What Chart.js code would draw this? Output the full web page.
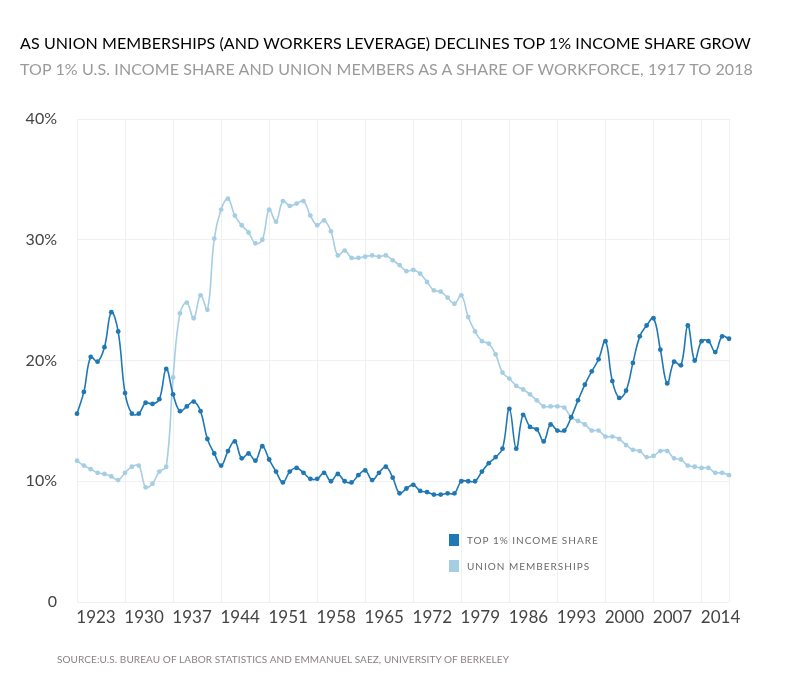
<!DOCTYPE html>
<html lang="en">
<head>
  <meta charset="UTF-8">
  <title>Union memberships and top 1% income share</title>
  <script src="https://cdn.jsdelivr.net/npm/chart.js"></script>
  <style>
    body {
      margin: 0;
      background: #fff;
      font-family: Lato, "Open Sans", sans-serif;
    }
    #wrap {
      position: relative;
      width: 800px;
      height: 693px;
      overflow: hidden;
    }
    .txt {
      position: absolute;
      white-space: nowrap;
      line-height: 1;
      text-transform: uppercase;
    }
    #title { left: 20px; top: 35px; font-size: 16px; color: #000; }
    #subtitle { left: 20px; top: 61px; font-size: 16px; color: #9a9a9a; }
    #source { left: 57px; top: 654px; font-size: 10px; color: #8a8282; }
    .legend-item {
      position: absolute;
      left: 449px;
      font-size: 10px;
      color: #6a6a6a;
      letter-spacing: 1px;
      line-height: 12px;
    }
    .legend-item span.box {
      display: inline-block;
      width: 10px;
      height: 12px;
      vertical-align: top;
      margin-right: 8px;
    }
    #chartBox {
      position: absolute;
      left: 0;
      top: 0;
      width: 800px;
      height: 693px;
    }
  </style>
</head>
<body>
  <div id="wrap">
    <div id="chartBox"><canvas id="grafica"></canvas></div>
    <div class="txt" id="title">As union memberships (and workers leverage) declines top 1% income share grow</div>
    <div class="txt" id="subtitle">Top 1% U.S. income share and union members as a share of workforce, 1917 to 2018</div>
    <div class="legend-item" style="top:534px"><span class="box" style="background:#1f78b4"></span>TOP 1% INCOME SHARE</div>
    <div class="legend-item" style="top:560px"><span class="box" style="background:#a6cee3"></span>UNION MEMBERSHIPS</div>
    <div class="txt" id="source">Source:U.S. Bureau of Labor Statistics and Emmanuel Saez, University of Berkeley</div>
  </div>

  <script>
    const years = [
      1923, 1924, 1925, 1926, 1927, 1928, 1929, 1930, 1931, 1932, 1933, 1934,
      1935, 1936, 1937, 1938, 1939, 1940, 1941, 1942, 1943, 1944, 1945, 1946,
      1947, 1948, 1949, 1950, 1951, 1952, 1953, 1954, 1955, 1956, 1957, 1958,
      1959, 1960, 1961, 1962, 1963, 1964, 1965, 1966, 1967, 1968, 1969, 1970,
      1971, 1972, 1973, 1974, 1975, 1976, 1977, 1978, 1979, 1980, 1981, 1982,
      1983, 1984, 1985, 1986, 1987, 1988, 1989, 1990, 1991, 1992, 1993, 1994,
      1995, 1996, 1997, 1998, 1999, 2000, 2001, 2002, 2003, 2004, 2005, 2006,
      2007, 2008, 2009, 2010, 2011, 2012, 2013, 2014, 2015, 2016, 2017, 2018
    ];

    // top 1% income share, %
    const topShare = [
      15.6, 17.4, 20.3, 19.9, 21.1, 24.0, 22.4, 17.3, 15.6, 15.6, 16.5, 16.4,
      16.8, 19.3, 17.2, 15.8, 16.2, 16.6, 15.8, 13.5, 12.3, 11.3, 12.5, 13.3,
      11.9, 12.3, 11.7, 12.9, 11.8, 10.8, 9.9, 10.8, 11.1, 10.7, 10.2, 10.2,
      10.7, 10.0, 10.6, 10.0, 9.9, 10.5, 10.9, 10.1, 10.7, 11.2, 10.3, 9.0,
      9.4, 9.7, 9.2, 9.1, 8.9, 8.9, 9.0, 9.0, 10.0, 10.0, 10.0, 10.8,
      11.5, 12.0, 12.7, 16.0, 12.7, 15.5, 14.5, 14.3, 13.3, 14.7, 14.2, 14.2,
      15.3, 16.7, 18.0, 19.1, 20.1, 21.6, 18.3, 16.9, 17.5, 19.8, 22.0, 22.9,
      23.5, 20.9, 18.1, 19.9, 19.6, 22.9, 20.0, 21.6, 21.6, 20.7, 22.0, 21.8
    ];

    // union members as share of workforce, %
    const unionShare = [
      11.7, 11.3, 11.0, 10.7, 10.6, 10.4, 10.1, 10.7, 11.2, 11.3, 9.5, 9.8,
      10.8, 11.2, 18.6, 23.9, 24.8, 23.5, 25.4, 24.2, 30.1, 32.5, 33.4, 32.0,
      31.2, 30.6, 29.7, 30.0, 32.5, 31.5, 33.2, 32.8, 33.0, 33.2, 32.0, 31.2,
      31.6, 30.7, 28.7, 29.1, 28.5, 28.5, 28.6, 28.7, 28.6, 28.7, 28.3, 27.9,
      27.4, 27.5, 27.2, 26.5, 25.8, 25.7, 25.2, 24.7, 25.4, 23.6, 22.4, 21.6,
      21.4, 20.5, 19.0, 18.5, 17.9, 17.6, 17.2, 16.7, 16.2, 16.2, 16.2, 16.1,
      15.3, 15.0, 14.7, 14.2, 14.2, 13.7, 13.7, 13.5, 13.0, 12.6, 12.5, 12.0,
      12.1, 12.5, 12.5, 11.9, 11.8, 11.3, 11.2, 11.1, 11.1, 10.7, 10.7, 10.5
    ];

    const xTicks = [1923, 1930, 1937, 1944, 1951, 1958, 1965, 1972, 1979, 1986, 1993, 2000, 2007, 2014];
    const yTicks = [0, 10, 20, 30, 40];

    // stretch the caption texts to the widths they take in the original
    function fitWidth(id, target) {
      const el = document.getElementById(id);
      const n = el.textContent.length;
      const w = el.getBoundingClientRect().width;
      el.style.letterSpacing = ((target - w) / n) + 'px';
    }
    fitWidth('title', 731);
    fitWidth('subtitle', 733);
    fitWidth('source', 452);

    const gridColor = '#f0f0f0';
    const firstYear = years[0];
    const lastYear = years[years.length - 1];
    const toPoints = arr => arr.map((v, i) => ({ x: years[i], y: v }));

    const ctx = document.getElementById('grafica').getContext('2d');
    new Chart(ctx, {
      type: 'line',
      data: {
        datasets: [
          {
            label: 'Top 1% income share',
            data: toPoints(topShare),
            borderColor: '#1f78b4',
            backgroundColor: '#1f78b4',
            borderWidth: 1.6,
            pointRadius: 2.4,
            pointBorderWidth: 0,
            tension: 0.4,
            clip: false,
            order: 1
          },
          {
            label: 'Union memberships',
            data: toPoints(unionShare),
            borderColor: '#a6cee3',
            backgroundColor: '#a6cee3',
            borderWidth: 1.6,
            pointRadius: 2.4,
            pointBorderWidth: 0,
            tension: 0.4,
            clip: false,
            order: 2
          }
        ]
      },
      options: {
        responsive: true,
        maintainAspectRatio: false,
        animation: false,
        layout: { padding: { left: 0, right: 71, top: 119, bottom: 61 } },
        plugins: {
          legend: { display: false },
          tooltip: { enabled: false }
        },
        scales: {
          x: {
            type: 'linear',
            min: firstYear,
            max: lastYear,
            border: { display: false },
            grid: { drawTicks: false, color: gridColor },
            afterBuildTicks: scale => {
              scale.ticks = xTicks.concat([lastYear]).map(v => ({ value: v }));
            },
            ticks: {
              autoSkip: false,
              maxRotation: 0,
              labelOffset: 19,
              padding: 5,
              color: '#444',
              font: { family: 'Lato', size: 17 },
              callback: v => xTicks.includes(v) ? String(v) : ''
            },
            afterFit: scale => { scale.height = 30; }
          },
          y: {
            min: 0,
            max: 40,
            border: { display: false },
            grid: { drawTicks: false, color: gridColor },
            afterBuildTicks: scale => { scale.ticks = yTicks.map(v => ({ value: v })); },
            ticks: {
              padding: 20,
              color: '#444',
              font: { family: 'Lato', size: 16 },
              callback: v => v === 0 ? '0' : v + '%'
            },
            afterFit: scale => { scale.width = 77; }
          }
        }
      }
    });
  </script>
</body>
</html>
